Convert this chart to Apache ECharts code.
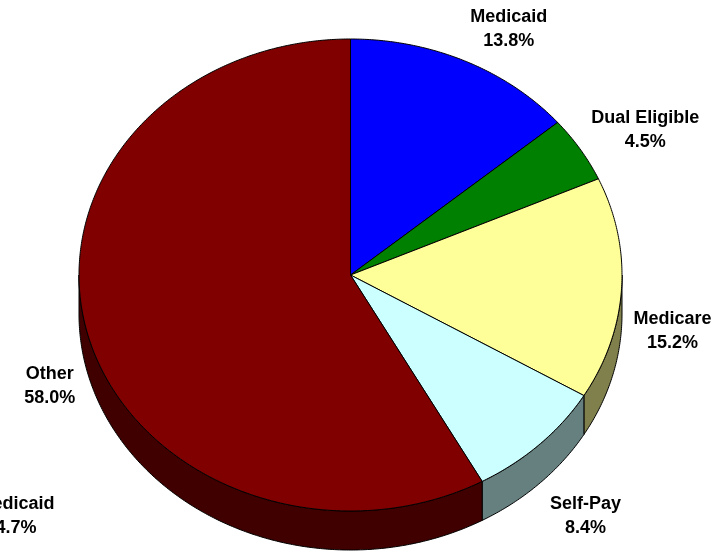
<!DOCTYPE html>
<html>
<head>
<meta charset="utf-8">
<script src="https://cdn.jsdelivr.net/npm/echarts@6/dist/echarts.min.js"></script>
<style>
  html, body { margin: 0; padding: 0; background: #fff; }
  #main { width: 722px; height: 556px; }
</style>
</head>
<body>
<div id="main"></div>
<script>
// Payer mix, share of total (%)
const categories = ['Medicaid', 'Dual Eligible', 'Medicare', 'Self-Pay', 'Other'];
const shares = [13.8, 4.5, 15.2, 8.4, 58.0];

// Label of the neighbouring chart that runs in from the left edge
const edgeLabel = ['Medicaid', '4.7%'];

// Face colours and the darker shades for the slab wall
const topColors = ['#0000FF', '#008000', '#FFFF99', '#CCFFFF', '#800000'];
const sideColors = ['#000080', '#004000', '#80804C', '#668080', '#400000'];

// Label offsets from the rim point at each slice's mid-angle
const labelNudge = [[44, -32], [65, -19], [51, 42], [46, 72], [-38, 52]];

// Tilted-disc geometry
const CX = 350.5, CY = 275, RX = 271.5, RY = 236, DEPTH = 39;

const total = shares.reduce((a, b) => a + b, 0);
const starts = [];
let acc = 0;
shares.forEach(v => { starts.push(acc / total * 360); acc += v; });

// angle in degrees, clockwise from 12 o'clock
function pt(deg, dy) {
  const r = deg * Math.PI / 180;
  return [CX + RX * Math.sin(r), CY - RY * Math.cos(r) + (dy || 0)];
}
function arc(a0, a1, dy) {
  const n = Math.max(2, Math.ceil(Math.abs(a1 - a0) / 0.5));
  const out = [];
  for (let k = 0; k <= n; k++) out.push(pt(a0 + (a1 - a0) * k / n, dy));
  return out;
}

const FONT = 'Liberation Sans, Arial, sans-serif';

const chart = echarts.init(document.getElementById('main'), null, { renderer: 'canvas' });
chart.setOption({
  backgroundColor: '#ffffff',
  animation: false,
  series: [{
    type: 'custom',
    coordinateSystem: 'none',
    silent: true,
    data: shares.map(v => [v]),
    renderItem: function (params, api) {
      const i = params.dataIndex;
      const v = api.value(0);
      const a0 = starts[i];
      const a1 = a0 + v / total * 360;
      const children = [];
      // visible part of the outer wall (front half of the disc)
      const s = Math.max(a0, 90), e = Math.min(a1, 270);
      if (e > s) {
        children.push({
          type: 'polygon', z2: 1,
          shape: { points: arc(s, e, 0).concat(arc(e, s, DEPTH)) },
          style: { fill: sideColors[i], stroke: '#000', lineWidth: 1 }
        });
      }
      // top face of the slice
      children.push({
        type: 'polygon', z2: 5,
        shape: { points: [[CX, CY]].concat(arc(a0, a1, 0)) },
        style: { fill: topColors[i], stroke: '#000', lineWidth: 1 }
      });
      const rim = pt((a0 + a1) / 2, 0);
      children.push({
        type: 'text', z2: 10,
        x: rim[0] + labelNudge[i][0],
        y: rim[1] + labelNudge[i][1],
        style: {
          text: categories[i] + '\n' + v.toFixed(1) + '%',
          fill: '#000',
          fontFamily: FONT, fontSize: 18, fontWeight: 'bold',
          align: 'center', verticalAlign: 'middle', lineHeight: 24
        }
      });
      return { type: 'group', children: children };
    }
  }],
  graphic: [{
    type: 'text', x: 16, y: 516, silent: true,
    style: {
      text: edgeLabel.join('\n'),
      fill: '#000',
      fontFamily: FONT, fontSize: 18, fontWeight: 'bold',
      align: 'center', verticalAlign: 'middle', lineHeight: 24
    }
  }]
});
</script>
</body>
</html>
